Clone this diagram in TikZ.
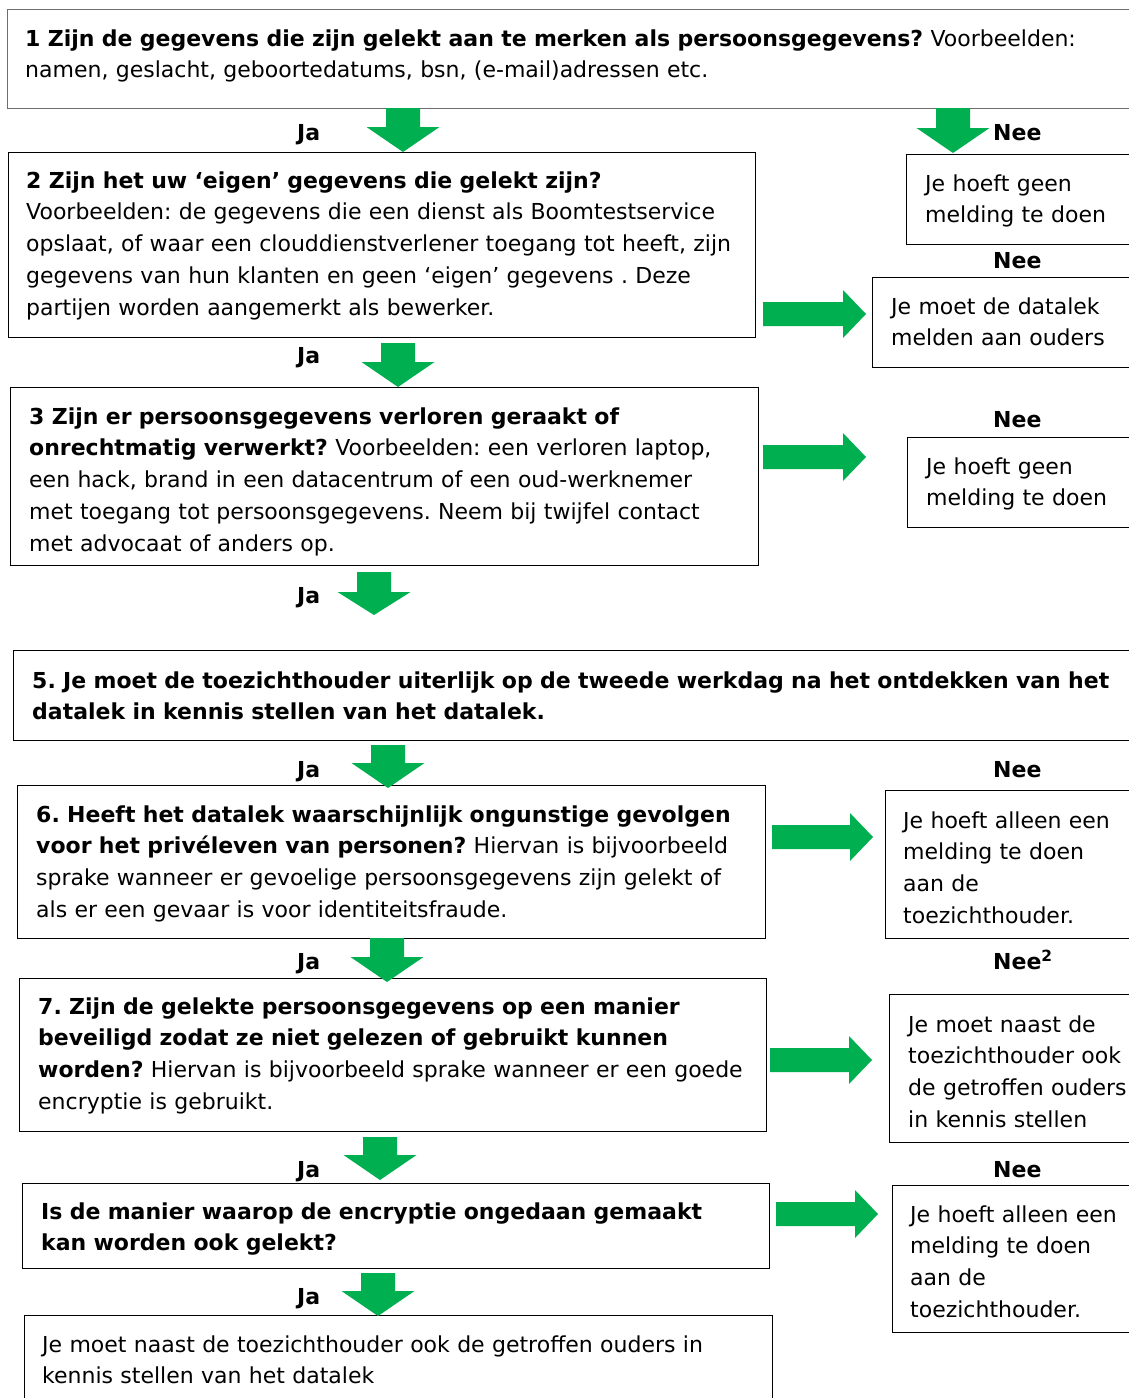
\documentclass[tikz,border=0pt]{standalone}
\usepackage{fontspec}
\setmainfont{DejaVu Sans}
\usetikzlibrary{positioning}
\definecolor{pijlgroen}{RGB}{0,176,80}
\definecolor{randgrijs}{RGB}{110,110,110}
\frenchspacing

% x, top, start of head, tip
\newcommand{\greendown}[4]{%
  \fill[pijlgroen] (#1-17,#2) -- (#1+17,#2) -- (#1+17,#3) -- (#1+36.5,#3)
    -- (#1,#4) -- (#1-36.5,#3) -- (#1-17,#3) -- cycle;}
% left, middle, tip
\newcommand{\greenright}[3]{%
  \fill[pijlgroen] (#1,#2-12) -- (#3-23,#2-12) -- (#3-23,#2-24) -- (#3,#2)
    -- (#3-23,#2+24) -- (#3-23,#2+12) -- (#1,#2+12) -- cycle;}

\begin{document}
\begin{tikzpicture}[x=1pt,y=-1pt,
   frame/.style={draw, line width=1.2pt, anchor=north west, inner sep=0pt},
   txt/.style={anchor=base west, inner sep=0pt, text width=1150pt, align=left,
               font=\fontsize{22}{31.8}\selectfont},
   lbl/.style={anchor=base west, inner sep=0pt, font=\fontsize{22}{26}\selectfont\bfseries}]
   \useasboundingbox (0,0) rectangle (1129,1398);
   \clip (0,0) rectangle (1129,1398);

   \node[frame, draw=randgrijs, minimum width=1133, minimum height=99] (q1) at (7,9) {};
   \node[frame, minimum width=234, minimum height=90] (a1) at (906,154) {};
   \node[frame, minimum width=747, minimum height=185] (q2) at (8,152) {};
   \node[frame, minimum width=268, minimum height=90] (a2) at (872,277) {};
   \node[frame, minimum width=748, minimum height=178] (q3) at (10,387) {};
   \node[frame, minimum width=233, minimum height=90] (a3) at (907,437) {};
   \node[frame, minimum width=1127, minimum height=90] (q5) at (13,650) {};
   \node[frame, minimum width=748, minimum height=153] (q6) at (17,785) {};
   \node[frame, minimum width=255, minimum height=148] (a6) at (885,790) {};
   \node[frame, minimum width=747, minimum height=153] (q7) at (19,978) {};
   \node[frame, minimum width=251, minimum height=148] (a7) at (889,994) {};
   \node[frame, minimum width=747, minimum height=85] (q8) at (22,1183) {};
   \node[frame, minimum width=248, minimum height=147] (a8) at (892,1185) {};
   \node[frame, minimum width=748, minimum height=95] (q9) at (24,1315) {};

   \node[txt] (t1) at (25,46) {\textbf{1 Zijn de gegevens die zijn gelekt aan te merken als persoonsgegevens?} Voorbeelden:\\
      namen, geslacht, geboortedatums, bsn, (e-mail)adressen etc.};
   \node[txt] (s1) at (925,191) {Je hoeft geen\\melding te doen};
   \node[txt] (t2) at (26,188) {\textbf{2 Zijn het uw ‘eigen’ gegevens die gelekt zijn?}\\
      Voorbeelden: de gegevens die een dienst als Boomtestservice\\
      opslaat, of waar een clouddienstverlener toegang tot heeft, zijn\\
      gegevens van hun klanten en geen ‘eigen’ gegevens . Deze\\
      partijen worden aangemerkt als bewerker.};
   \node[txt] (s2) at (891,314) {Je moet de datalek\\melden aan ouders};
   \node[txt] (t3) at (29,424) {\textbf{3 Zijn er persoonsgegevens verloren geraakt of}\\
      \textbf{onrechtmatig verwerkt?} Voorbeelden: een verloren laptop,\\
      een hack, brand in een datacentrum of een oud-werknemer\\
      met toegang tot persoonsgegevens. Neem bij twijfel contact\\
      met advocaat of anders op.};
   \node[txt] (s3) at (926,474) {Je hoeft geen\\melding te doen};
   \node[txt] (t5) at (32,688) {\textbf{5. Je moet de toezichthouder uiterlijk op de tweede werkdag na het ontdekken van het}\\
      \textbf{datalek in kennis stellen van het datalek.}};
   \node[txt] (t6) at (36,822) {\textbf{6. Heeft het datalek waarschijnlijk ongunstige gevolgen}\\
      \textbf{voor het privéleven van personen?} Hiervan is bijvoorbeeld\\
      sprake wanneer er gevoelige persoonsgegevens zijn gelekt of\\
      als er een gevaar is voor identiteitsfraude.};
   \node[txt] (s6) at (903,828) {Je hoeft alleen een\\melding te doen\\aan de\\toezichthouder.};
   \node[txt] (t7) at (38,1014) {\textbf{7. Zijn de gelekte persoonsgegevens op een manier}\\
      \textbf{beveiligd zodat ze niet gelezen of gebruikt kunnen}\\
      \textbf{worden?} Hiervan is bijvoorbeeld sprake wanneer er een goede\\
      encryptie is gebruikt.};
   \node[txt] (s7) at (908,1032) {Je moet naast de\\toezichthouder ook\\de getroffen ouders\\in kennis stellen};
   \node[txt] (t8) at (41,1219) {\textbf{Is de manier waarop de encryptie ongedaan gemaakt}\\
      \textbf{kan worden ook gelekt?}};
   \node[txt] (s8) at (910,1222) {Je hoeft alleen een\\melding te doen\\aan de\\toezichthouder.};
   \node[txt] (t9) at (42,1352) {Je moet naast de toezichthouder ook de getroffen ouders in\\
      kennis stellen van het datalek};

   \node[lbl] (ja1) at (297,140) {Ja};
   \node[lbl] (nee1) at (993,140) {Nee};
   \node[lbl] (nee2) at (993,268) {Nee};
   \node[lbl] (ja2) at (297,363) {Ja};
   \node[lbl] (nee3) at (993,427) {Nee};
   \node[lbl] (ja3) at (297,603) {Ja};
   \node[lbl] (ja5) at (297,777) {Ja};
   \node[lbl] (nee5) at (993,777) {Nee};
   \node[lbl] (ja6) at (297,969) {Ja};
   \node[lbl] (nee6) at (993,969) {Nee\textsuperscript{2}};
   \node[lbl] (ja7) at (297,1177) {Ja};
   \node[lbl] (nee7) at (993,1177) {Nee};
   \node[lbl] (ja8) at (297,1304) {Ja};

   \greendown{403}{108}{127}{152}
   \greendown{953}{108}{128}{153}
   \greendown{398}{343}{362}{387}
   \greendown{374}{572}{592}{615}
   \greendown{388}{745}{763}{788}
   \greendown{387}{938}{957}{982}
   \greendown{380}{1137}{1155}{1180}
   \greendown{378}{1273}{1291}{1316}

   \greenright{763}{314}{866}
   \greenright{763}{457}{866}
   \greenright{772}{837}{873}
   \greenright{770}{1060}{872}
   \greenright{776}{1214}{878}
\end{tikzpicture}
\end{document}
